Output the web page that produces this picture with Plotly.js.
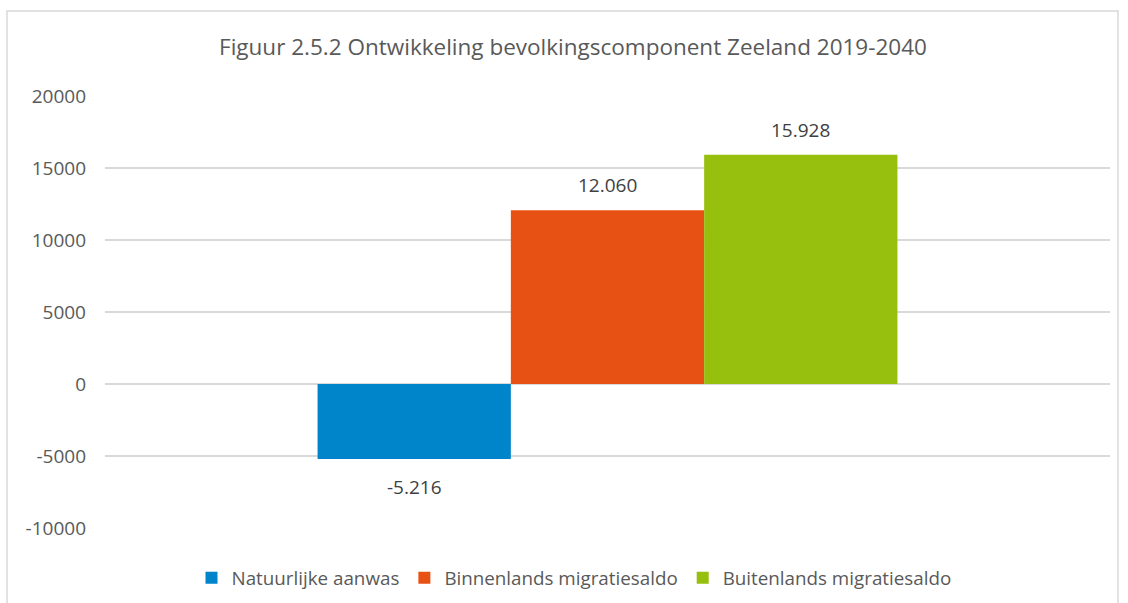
<!DOCTYPE html>
<html>
<head>
<meta charset="utf-8">
<script src="https://cdn.plot.ly/plotly-3.0.1.min.js"></script>
<style>html,body{margin:0;padding:0;background:#fff;}#chart{width:1128px;height:603px;}</style>
</head>
<body>
<div id="chart"></div>
<script>
const category = ["2019-2040"];
const seriesNames = ["Natuurlijke aanwas", "Binnenlands migratiesaldo", "Buitenlands migratiesaldo"];
const seriesValues = [-5216, 12060, 15928];
const valueLabels = ["-5.216", "12.060", "15.928"];
const seriesColors = ["#0085CA", "#E75113", "#97BF0D"];
const tickValues = [-10000, -5000, 0, 5000, 10000, 15000, 20000];
const tickLabels = ["-10000", "-5000", "0", "5000", "10000", "15000", "20000"];

const FONT = "'Open Sans', sans-serif";
const BARGAP = 0.423;
const groupW = 1 - BARGAP;
const barW = groupW / seriesNames.length;

const traces = seriesNames.map((name, i) => ({
  type: "bar",
  name: name,
  x: category,
  y: [seriesValues[i]],
  marker: {color: seriesColors[i]},
  hoverinfo: "y"
}));

const annotations = seriesValues.map((v, i) => ({
  xref: "x", yref: "y",
  x: -groupW / 2 + barW * (i + 0.5),
  y: v,
  text: valueLabels[i],
  showarrow: false,
  xanchor: "center", yanchor: "middle",
  yshift: v >= 0 ? 25 : -28,
  font: {family: FONT, size: 19, color: "#404040"}
}));

const layout = {
  width: 1128, height: 603,
  margin: {l: 105, r: 18, t: 96, b: 75, autoexpand: false},
  paper_bgcolor: "#fff", plot_bgcolor: "#fff",
  font: {family: FONT, color: "#595959"},
  title: {text: "Figuur 2.5.2 Ontwikkeling bevolkingscomponent Zeeland 2019-2040",
          font: {family: FONT, size: 22.5, color: "#595959"},
          x: 573/1128, xanchor: "center", xref: "container",
          y: 1 - 47/603, yanchor: "middle", yref: "container"},
  barmode: "group",
  bargap: BARGAP,
  bargroupgap: 0,
  xaxis: {showticklabels: false, showgrid: false, zeroline: false, showline: false, ticks: "", fixedrange: true},
  yaxis: {range: [-10000, 20000], tickvals: tickValues, ticktext: tickLabels,
          showgrid: true, gridcolor: "#d9d9d9", gridwidth: 1.3,
          zeroline: true, zerolinecolor: "#d9d9d9", zerolinewidth: 1.3,
          showline: false, ticks: "", ticklen: 0, ticklabelstandoff: 18,
          tickfont: {family: FONT, size: 19, color: "#595959"}},
  showlegend: true,
  legend: {orientation: "h", x: 574/1128, xanchor: "center", xref: "container",
           y: 1 - 578/603, yanchor: "middle", yref: "container",
           font: {family: FONT, size: 18.8, color: "#595959"}, traceorder: "normal"},
  annotations: annotations,
  shapes: [{type: "rect", xref: "paper", yref: "paper",
            x0: (7-105)/1005, x1: (1118-105)/1005, y0: -0.3, y1: (528-11)/432,
            line: {color: "#d9d9d9", width: 1.5}, fillcolor: "rgba(0,0,0,0)", layer: "below"}]
};

Plotly.newPlot("chart", traces, layout, {displayModeBar: false, staticPlot: true});
</script>
</body>
</html>
